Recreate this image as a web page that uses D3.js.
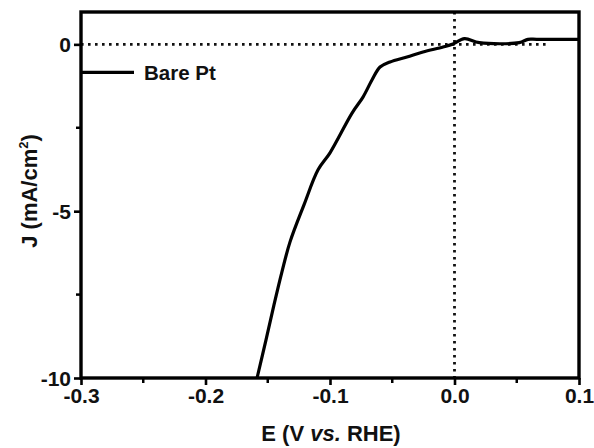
<!DOCTYPE html>
<html>
<head>
<meta charset="utf-8">
<script src="https://cdn.jsdelivr.net/npm/d3@7"></script>
<style>
    body { margin: 0; background: white; }
    text { font-family: 'Liberation Sans', Arial, sans-serif; font-weight: bold; fill: #111; }
</style>
</head>
<body>
<svg id="chart"></svg>
<script>
// potential (V vs. RHE) and current density (mA/cm2)
const potential = [-0.1586, -0.1514, -0.1450, -0.1386, -0.1321, -0.1209, -0.1096, -0.1000,
    -0.0823, -0.0735, -0.0663, -0.0598, -0.0518, -0.0382, -0.0253, -0.0092, -0.0012,
    0.008, 0.020, 0.052, 0.059, 0.066, 0.100];
const current = [-10, -8.86, -7.81, -6.82, -5.92, -4.81, -3.76, -3.25,
    -2.06, -1.58, -1.07, -0.68, -0.53, -0.38, -0.23, -0.08, 0.01,
    0.17, 0.05, 0.05, 0.15, 0.15, 0.15];
const xTicks = [-0.3, -0.2, -0.1, 0.0, 0.1];
const xMinor = [-0.25, -0.15, -0.05, 0.05];
const yTicks = [0, -5, -10];
const yMinor = [-2.5, -7.5];
const seriesName = 'Bare Pt';

const margin = { top: 12, right: 15, bottom: 70, left: 81 };
const W = 594, H = 448;
const width = W - margin.left - margin.right;
const height = H - margin.top - margin.bottom;

const svg = d3.select('#chart').attr('width', W).attr('height', H);
const g = svg.append('g').attr('transform', `translate(${margin.left},${margin.top})`);

const x = d3.scaleLinear().domain([-0.3, 0.1]).range([0, width]);
const y = d3.scaleLinear().domain([-10, 0.97]).range([height, 0]);

// reference dotted lines
g.append('line')
    .attr('x1', x(-0.3)).attr('x2', x(0.076))
    .attr('y1', y(0)).attr('y2', y(0))
    .attr('stroke', '#111').attr('stroke-width', 2.8)
    .attr('stroke-dasharray', '2.6,4.4');
g.append('line')
    .attr('x1', x(0)).attr('x2', x(0))
    .attr('y1', 0).attr('y2', height)
    .attr('stroke', '#111').attr('stroke-width', 2.8)
    .attr('stroke-dasharray', '2.6,4.4');

// curve
const line = d3.line().x((d, i) => x(potential[i])).y(d => y(d)).curve(d3.curveCatmullRom.alpha(0.5));
g.append('path')
    .datum(current)
    .attr('d', line)
    .attr('fill', 'none')
    .attr('stroke', '#000')
    .attr('stroke-width', 3.2)
    .attr('stroke-linejoin', 'round');

// frame
g.append('rect')
    .attr('width', width).attr('height', height)
    .attr('fill', 'none').attr('stroke', '#000').attr('stroke-width', 3.4);

// x axis
const xAxis = g.append('g').attr('transform', `translate(0,${height})`)
    .call(d3.axisBottom(x).tickValues(xTicks).tickSize(7));
xAxis.append('g').selectAll('line').data(xMinor).join('line')
    .attr('x1', d => x(d)).attr('x2', d => x(d))
    .attr('y1', 0).attr('y2', 5)
    .attr('stroke', '#000').attr('stroke-width', 2.5);

// y axis
const yAxis = g.append('g')
    .call(d3.axisLeft(y).tickValues(yTicks).tickSize(7));
yAxis.append('g').selectAll('line').data(yMinor).join('line')
    .attr('x1', 0).attr('x2', -5)
    .attr('y1', d => y(d)).attr('y2', d => y(d))
    .attr('stroke', '#000').attr('stroke-width', 2.5);

[xAxis, yAxis].forEach(a => {
    a.select('.domain').remove();
    a.selectAll('.tick line').attr('stroke', '#000').attr('stroke-width', 2.6);
    a.selectAll('.tick text')
        .style('font-family', "'Liberation Sans', Arial, sans-serif")
        .style('font-weight', 'bold')
        .attr('font-size', 21).attr('fill', '#111');
});
xAxis.selectAll('.tick text').attr('y', 10).attr('dy', '0.71em')
    .text(d => d3.format('.1f')(d).replace('−', '-'));
yAxis.selectAll('.tick text').attr('x', -10).attr('dy', '0.36em')
    .text(d => d3.format('d')(d).replace('−', '-'));

// axis titles
const xl = svg.append('text')
    .attr('x', margin.left + x(-0.1) + 1)
    .attr('y', 441)
    .attr('text-anchor', 'middle')
    .attr('font-size', 22);
xl.append('tspan').text('E (V ');
xl.append('tspan').attr('font-style', 'italic').text('vs.');
xl.append('tspan').text(' RHE)');

const yl = svg.append('text')
    .attr('transform', `translate(37,${191}) rotate(-90)`)
    .attr('text-anchor', 'middle')
    .attr('font-size', 22);
yl.append('tspan').text('J (mA/cm');
yl.append('tspan').attr('font-size', 13).attr('dy', -9).text('2');
yl.append('tspan').attr('dy', 9).text(')');

// legend
const leg = g.append('g').attr('transform', `translate(0,${y(0) + 28})`);
leg.append('line').attr('x1', 1).attr('x2', 53)
    .attr('stroke', '#000').attr('stroke-width', 3.2);
leg.append('text').attr('x', 63).attr('dy', '0.36em')
    .attr('font-size', 20.5).text(seriesName);
</script>
</body>
</html>
